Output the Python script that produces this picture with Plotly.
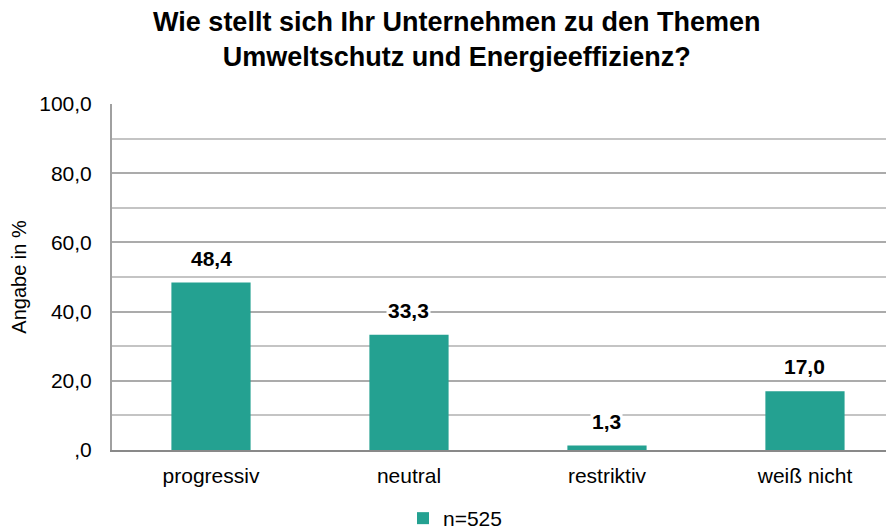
import plotly.graph_objects as go

# Data
categories = ["progressiv", "neutral", "restriktiv", "weiß nicht"]
values = [48.4, 33.3, 1.3, 17.0]
value_labels = ["48,4", "33,3", "1,3", "17,0"]
series_name = "n=525"
y_ticks = [0, 20, 40, 60, 80, 100]
y_tick_labels = [",0", "20,0", "40,0", "60,0", "80,0", "100,0"]

TEAL = "#24A191"
FONT = "Liberation Sans, Arial, sans-serif"

fig = go.Figure()
fig.add_trace(go.Bar(
    x=categories,
    y=values,
    name=series_name,
    marker=dict(color=TEAL, line=dict(width=0)),
    width=0.4,
    showlegend=True,
))

# value labels with white box so the gridlines are cut behind them
for cat, val, lab in zip(categories, values, value_labels):
    fig.add_annotation(
        x=cat, y=val, text="<b>" + lab + "</b>",
        showarrow=False, yanchor="bottom", yshift=11,
        font=dict(size=21, color="black", family=FONT),
        bgcolor="white", borderpad=1,
    )

fig.update_layout(
    width=894, height=531,
    paper_bgcolor="white", plot_bgcolor="white",
    font=dict(family=FONT, color="black"),
    title=dict(
        text="<b>Wie stellt sich Ihr Unternehmen zu den Themen<br>Umweltschutz und Energieeffizienz?</b>",
        x=0.502, xanchor="center", yref="container", y=0.957, yanchor="top",
        font=dict(size=27, family=FONT, color="black"),
    ),
    margin=dict(l=104, r=0, t=96, b=89),
    bargap=0.6,
    legend=dict(
        orientation="h", xref="container", x=0.5, xanchor="center",
        yref="container", y=-0.012, yanchor="bottom",
        font=dict(size=21, family=FONT), itemwidth=30,
    ),
    xaxis=dict(
        range=[-0.5, 3.49],
        automargin=False,
        showgrid=False,
        showline=True, linecolor="#898989", linewidth=2,
        ticks="", tickfont=dict(size=21, family=FONT, color="black"),
        ticklabelstandoff=6,
    ),
    yaxis=dict(
        range=[0, 100],
        automargin=False,
        tickvals=y_ticks, ticktext=y_tick_labels,
        tickfont=dict(size=21, family=FONT, color="black"),
        showgrid=True, gridcolor="#ABABAB", gridwidth=1.5,
        minor=dict(dtick=10, showgrid=True, gridcolor="#C4C4C4", gridwidth=1.5),
        showline=True, linecolor="#A0A0A0", linewidth=2,
        ticks="", ticklabelstandoff=14,
        zeroline=False,
        title=dict(text="Angabe in %", font=dict(size=20, family=FONT), standoff=9),
    ),
)

fig.write_html("out.html")
